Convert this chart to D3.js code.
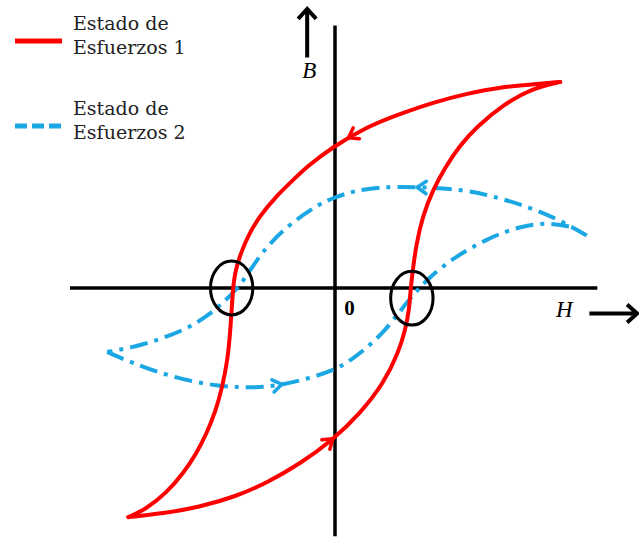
<!DOCTYPE html>
<html>
<head>
<meta charset="utf-8">
<script src="https://cdn.jsdelivr.net/npm/d3@7"></script>
<style>
  body { margin: 0; background: #fff; }
  svg { display: block; }
</style>
</head>
<body>
<div id="chart"></div>
<script>
// ===============================
// DATOS  [H, B]  (unidades arbitrarias)
// ===============================
// Estado de Esfuerzos 1: rama descendente (de saturación positiva a negativa)
const estado1Baja = [
  [1.70, 1.61], [1.49, 1.59], [1.25, 1.57], [1.00, 1.52], [0.74, 1.45],
  [0.49, 1.36], [0.24, 1.26], [-0.02, 1.10], [-0.21, 0.95], [-0.32, 0.84],
  [-0.45, 0.71], [-0.57, 0.56], [-0.65, 0.42], [-0.70, 0.30], [-0.74, 0.18],
  [-0.76, 0.08], [-0.77, -0.01], [-0.78, -0.17], [-0.79, -0.33], [-0.81, -0.56],
  [-0.85, -0.77], [-0.90, -0.96], [-0.97, -1.14], [-1.05, -1.30], [-1.14, -1.44],
  [-1.27, -1.60], [-1.43, -1.73], [-1.56, -1.79]
];
// rama ascendente
const estado1Sube = [
  [-1.56, -1.79], [-1.28, -1.76], [-1.02, -1.71], [-0.75, -1.63], [-0.51, -1.52],
  [-0.26, -1.37], [-0.02, -1.19], [0.19, -0.98], [0.37, -0.74], [0.48, -0.50],
  [0.53, -0.33], [0.56, -0.17], [0.57, -0.01], [0.59, 0.16], [0.61, 0.32],
  [0.66, 0.56], [0.74, 0.77], [0.83, 0.94], [0.94, 1.11], [1.07, 1.26],
  [1.28, 1.44], [1.49, 1.56], [1.70, 1.61]
];
// Estado de Esfuerzos 2
const estado2Baja = [
  [1.90, 0.41], [1.70, 0.53], [1.47, 0.63], [1.22, 0.71], [0.97, 0.77],
  [0.62, 0.79], [0.34, 0.79], [0.15, 0.76], [0.00, 0.71], [-0.13, 0.65],
  [-0.34, 0.50], [-0.49, 0.35], [-0.59, 0.22], [-0.67, 0.09], [-0.75, -0.02],
  [-0.87, -0.14], [-0.98, -0.23], [-1.12, -0.32], [-1.32, -0.40], [-1.51, -0.46],
  [-1.72, -0.50]
];
const estado2Sube = [
  [-1.72, -0.50], [-1.52, -0.59], [-1.22, -0.70], [-0.89, -0.77], [-0.59, -0.78],
  [-0.42, -0.76], [-0.21, -0.71], [0.00, -0.64], [0.11, -0.57], [0.24, -0.47],
  [0.38, -0.33], [0.50, -0.17], [0.60, -0.04], [0.70, 0.07], [0.87, 0.22],
  [1.15, 0.39], [1.42, 0.49], [1.62, 0.51], [1.77, 0.48]
];

// flechas de sentido de recorrido (punta)
const flechas = [
  { rama: 'e1b', h: 0.11, b: 1.16 },
  { rama: 'e1s', h: -0.02, b: -1.17 },
  { rama: 'e2b', h: 0.62, b: 0.80 },
  { rama: 'e2s', h: -0.40, b: -0.75 }
];

// puntos de coercitividad marcados con elipses
const coercitivos = [
  { h: -0.78, b: 0.00 },
  { h: 0.58, b: -0.08 }
];

const leyenda = [
  { lineas: ['Estado de', 'Esfuerzos 1'], color: '#ff0000', dash: null },
  { lineas: ['Estado de', 'Esfuerzos 2'], color: '#1ba7e4', dash: '12,5' }
];

// ===============================
// RENDER
// ===============================
const width = 639;
const height = 538;

const svg = d3.select('#chart')
  .append('svg')
  .attr('width', width)
  .attr('height', height);

const x = d3.scaleLinear().domain([-2, 2]).range([70, 600]);
const y = d3.scaleLinear().domain([-2, 2]).range([544, 32]);

const rojo = '#ff0000';
const azul = '#1ba7e4';

// Ejes
const ejes = svg.append('g')
  .attr('stroke', '#000')
  .attr('stroke-width', 3.5);

ejes.append('line')
  .attr('x1', x(-2)).attr('x2', x(1.98))
  .attr('y1', y(0)).attr('y2', y(0));

ejes.append('line')
  .attr('x1', x(0)).attr('x2', x(0))
  .attr('y1', y(2.05)).attr('y2', y(-1.94));

// Curvas (spline suavizada)
const line = d3.line()
  .x(d => x(d[0]))
  .y(d => y(d[1]))
  .curve(d3.curveBasis);

const ramas = {
  e2b: { data: estado2Baja, color: azul, dash: '18,7,4,7' },
  e2s: { data: estado2Sube, color: azul, dash: '18,7,4,7' },
  e1b: { data: estado1Baja, color: rojo, dash: null },
  e1s: { data: estado1Sube, color: rojo, dash: null }
};

const curvas = svg.append('g').attr('fill', 'none');
Object.entries(ramas).forEach(([id, r]) => {
  r.path = curvas.append('path')
    .attr('d', line(r.data))
    .attr('stroke', r.color)
    .attr('stroke-width', 4)
    .attr('stroke-dasharray', r.dash)
    .attr('stroke-linecap', r.dash ? 'butt' : 'round');
});

// Flechas sobre las curvas
flechas.forEach(f => {
  const r = ramas[f.rama];
  const node = r.path.node();
  const total = node.getTotalLength();
  const tx = x(f.h), ty = y(f.b);
  let best = 0, bestD = Infinity;
  for (let l = 0; l <= total; l += 0.5) {
    const p = node.getPointAtLength(l);
    const d = (p.x - tx) ** 2 + (p.y - ty) ** 2;
    if (d < bestD) { bestD = d; best = l; }
  }
  const p = node.getPointAtLength(best);
  const q = node.getPointAtLength(Math.max(0, best - 3));
  const ang = Math.atan2(p.y - q.y, p.x - q.x);
  const len = 11, abre = 0.6;
  const a1 = [p.x - len * Math.cos(ang - abre), p.y - len * Math.sin(ang - abre)];
  const a2 = [p.x - len * Math.cos(ang + abre), p.y - len * Math.sin(ang + abre)];
  svg.append('path')
    .attr('d', `M${a1}L${p.x},${p.y}L${a2}`)
    .attr('fill', 'none')
    .attr('stroke', r.color)
    .attr('stroke-width', 3.5)
    .attr('stroke-linecap', 'round')
    .attr('stroke-linejoin', 'round');
});

// Elipses
svg.append('g')
  .selectAll('ellipse')
  .data(coercitivos)
  .enter()
  .append('ellipse')
  .attr('cx', d => x(d.h))
  .attr('cy', d => y(d.b))
  .attr('rx', x(0.16) - x(0))
  .attr('ry', y(0) - y(0.21))
  .attr('fill', 'none')
  .attr('stroke', '#000')
  .attr('stroke-width', 3);

// Etiquetas de ejes
const serif = '"Liberation Serif", "DejaVu Serif", serif';

// flecha B
const bx = x(-0.21);
svg.append('path')
  .attr('d', `M${bx},${y(1.80)}V${y(2.18)}M${bx - 9},${y(2.18) + 10}L${bx},${y(2.18)}L${bx + 9},${y(2.18) + 10}`)
  .attr('fill', 'none')
  .attr('stroke', '#000')
  .attr('stroke-width', 4)
  .attr('stroke-linejoin', 'miter');

svg.append('text')
  .attr('x', bx + 2)
  .attr('y', y(1.64))
  .attr('text-anchor', 'middle')
  .attr('font-family', serif)
  .attr('font-style', 'italic')
  .attr('font-size', 23)
  .text('B');

// flecha H
const hy = y(-0.20);
svg.append('path')
  .attr('d', `M${x(1.92)},${hy}H${x(2.28)}M${x(2.28) - 10},${hy - 9}L${x(2.28)},${hy}L${x(2.28) - 10},${hy + 9}`)
  .attr('fill', 'none')
  .attr('stroke', '#000')
  .attr('stroke-width', 4);

svg.append('text')
  .attr('x', x(1.73))
  .attr('y', y(-0.23))
  .attr('text-anchor', 'middle')
  .attr('font-family', serif)
  .attr('font-style', 'italic')
  .attr('font-size', 23)
  .text('H');

svg.append('text')
  .attr('x', x(0.11))
  .attr('y', y(-0.21))
  .attr('text-anchor', 'middle')
  .attr('font-family', serif)
  .attr('font-weight', 'bold')
  .attr('font-size', 21)
  .text('0');

// Leyenda
const ley = svg.append('g');
leyenda.forEach((l, i) => {
  const y0 = 41 + i * 85;
  ley.append('line')
    .attr('x1', 15).attr('x2', 62)
    .attr('y1', y0).attr('y2', y0)
    .attr('stroke', l.color)
    .attr('stroke-width', 5)
    .attr('stroke-dasharray', l.dash);
  l.lineas.forEach((t, j) => {
    ley.append('text')
      .attr('x', 73)
      .attr('y', y0 - 11 + j * 24)
      .attr('font-family', '"DejaVu Serif", serif')
      .attr('font-size', 19)
      .attr('fill', '#222')
      .text(t);
  });
});
</script>
</body>
</html>
